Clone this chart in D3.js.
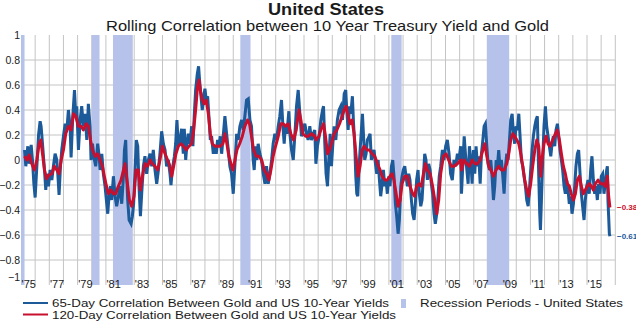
<!DOCTYPE html>
<html>
<head>
<meta charset="utf-8">
<script src="https://cdn.jsdelivr.net/npm/d3@7"></script>
<style>
  html, body { margin: 0; padding: 0; background: #fff; }
  svg { display: block; font-family: "Liberation Sans", Arial, sans-serif; }
</style>
</head>
<body>
<svg id="chart" width="636" height="322"></svg>
<script>
// 65-day rolling correlation, gold vs US 10-year yield: [decimal year, correlation]
const corr65 = [
  [1975.25,0.08],[1975.34,-0.05],[1975.48,0.11],[1975.58,-0.03],[1975.72,0.12],[1975.81,0.0],[1975.91,-0.19],
  [1976.00,-0.30],[1976.12,-0.05],[1976.24,0.2],[1976.35,0.31],[1976.42,0.27],[1976.52,0.13],[1976.66,-0.08],
  [1976.75,-0.24],[1976.82,-0.11],[1976.94,-0.21],[1977.06,-0.08],[1977.18,-0.16],[1977.29,-0.05],[1977.41,0.05],
  [1977.53,0.0],[1977.60,-0.11],[1977.69,-0.28],[1977.79,-0.05],[1977.88,0.08],[1978.00,0.19],[1978.12,0.29],
  [1978.24,0.24],[1978.35,0.40],[1978.47,0.27],[1978.54,0.02],[1978.66,0.35],[1978.78,0.56],[1978.87,0.35],
  [1978.94,0.43],[1979.06,0.08],[1979.18,0.32],[1979.29,0.43],[1979.41,0.27],[1979.53,0.37],[1979.65,0.16],
  [1979.76,0.45],[1979.88,0.27],[1979.95,0.0],[1980.05,0.13],[1980.19,0.0],[1980.28,-0.05],[1980.42,0.13],
  [1980.52,0.03],[1980.59,-0.08],[1980.71,0.05],[1980.82,-0.11],[1980.94,-0.21],[1981.06,-0.35],[1981.13,-0.43],
  [1981.22,-0.29],[1981.32,-0.21],[1981.41,-0.32],[1981.53,-0.13],[1981.65,-0.29],[1981.76,-0.37],[1981.88,-0.29],
  [1982.00,-0.21],[1982.12,-0.35],[1982.24,-0.13],[1982.31,0.08],[1982.40,0.16],[1982.47,-0.13],[1982.54,-0.32],
  [1982.64,-0.48],[1982.78,-0.51],[1982.87,-0.45],[1982.96,-0.35],[1983.06,-0.08],[1983.15,0.16],[1983.25,0.11],
  [1983.34,-0.21],[1983.44,-0.45],[1983.53,-0.27],[1983.65,-0.05],[1983.76,0.03],[1983.88,-0.11],[1984.00,0.0],
  [1984.12,0.05],[1984.24,-0.05],[1984.35,0.08],[1984.47,-0.08],[1984.59,-0.19],[1984.71,-0.08],[1984.82,0.05],
  [1984.94,0.23],[1985.06,0.13],[1985.18,0.08],[1985.29,-0.05],[1985.41,0.0],[1985.53,-0.11],[1985.60,-0.2],
  [1985.69,-0.08],[1985.84,0.03],[1985.93,0.13],[1986.02,0.32],[1986.12,0.11],[1986.24,0.16],[1986.35,0.25],
  [1986.47,0.05],[1986.54,0.25],[1986.64,0.0],[1986.73,0.13],[1986.82,0.21],[1986.94,0.13],[1987.06,0.27],
  [1987.15,0.11],[1987.25,0.37],[1987.34,0.56],[1987.46,0.69],[1987.55,0.75],[1987.62,0.64],[1987.72,0.51],
  [1987.81,0.40],[1987.91,0.51],[1988.00,0.57],[1988.09,0.48],[1988.19,0.51],[1988.28,0.35],[1988.38,0.16],
  [1988.47,0.19],[1988.59,0.05],[1988.71,0.12],[1988.80,0.05],[1988.89,0.16],[1988.99,0.11],[1989.08,0.19],
  [1989.18,0.05],[1989.29,0.19],[1989.41,0.35],[1989.53,0.21],[1989.65,0.08],[1989.76,-0.05],[1989.88,-0.11],
  [1990.00,-0.27],[1990.07,-0.13],[1990.16,0.05],[1990.24,0.21],[1990.35,0.16],[1990.47,0.27],[1990.59,0.32],
  [1990.71,0.24],[1990.82,0.35],[1990.94,0.48],[1991.06,0.49],[1991.18,0.32],[1991.29,0.27],[1991.41,0.0],
  [1991.48,-0.08],[1991.58,0.11],[1991.67,0.0],[1991.76,0.13],[1991.88,0.05],[1992.00,0.0],[1992.12,-0.11],
  [1992.24,-0.19],[1992.35,-0.05],[1992.47,-0.19],[1992.59,-0.11],[1992.71,0.0],[1992.82,0.13],[1992.94,0.21],
  [1993.06,0.16],[1993.18,0.27],[1993.29,0.35],[1993.41,0.48],[1993.51,0.27],[1993.60,0.13],[1993.69,0.29],
  [1993.79,0.21],[1993.93,0.39],[1994.02,0.19],[1994.12,0.08],[1994.24,0.0],[1994.35,0.19],[1994.47,0.43],
  [1994.59,0.56],[1994.71,0.37],[1994.82,0.19],[1994.94,0.24],[1995.06,0.29],[1995.18,0.21],[1995.29,0.16],
  [1995.41,0.27],[1995.53,0.16],[1995.65,0.21],[1995.76,0.24],[1995.84,-0.03],[1995.95,0.11],[1996.07,0.19],
  [1996.19,0.32],[1996.31,0.40],[1996.38,0.43],[1996.47,0.13],[1996.56,-0.11],[1996.66,-0.21],[1996.75,0.0],
  [1996.85,0.21],[1996.94,-0.05],[1997.04,0.13],[1997.13,0.27],[1997.25,0.16],[1997.36,0.32],[1997.48,0.40],
  [1997.60,0.43],[1997.72,0.32],[1997.84,0.53],[1997.95,0.56],[1998.02,0.40],[1998.12,0.24],[1998.21,0.43],
  [1998.31,0.37],[1998.42,0.51],[1998.49,0.32],[1998.59,0.11],[1998.66,-0.13],[1998.73,-0.27],[1998.80,-0.29],
  [1998.89,-0.05],[1999.01,0.16],[1999.13,0.37],[1999.20,0.21],[1999.29,0.0],[1999.39,0.05],[1999.48,0.16],
  [1999.60,0.19],[1999.67,0.21],[1999.76,0.0],[1999.86,0.05],[1999.95,0.08],[2000.05,-0.03],[2000.14,-0.11],
  [2000.24,0.0],[2000.33,-0.16],[2000.42,-0.29],[2000.52,-0.19],[2000.61,-0.08],[2000.71,-0.21],[2000.80,-0.16],
  [2000.89,-0.27],[2000.99,-0.13],[2001.08,-0.21],[2001.18,-0.05],[2001.27,0.0],[2001.36,-0.13],[2001.46,-0.35],
  [2001.55,-0.45],[2001.65,-0.59],[2001.74,-0.48],[2001.84,-0.21],[2001.93,-0.13],[2002.02,-0.08],[2002.12,-0.05],
  [2002.21,-0.13],[2002.31,-0.21],[2002.40,-0.11],[2002.49,-0.16],[2002.59,-0.32],[2002.68,-0.43],[2002.78,-0.48],
  [2002.87,-0.35],[2002.96,-0.16],[2003.06,-0.08],[2003.15,-0.27],[2003.25,-0.37],[2003.34,-0.32],[2003.44,-0.13],
  [2003.53,0.05],[2003.62,0.0],[2003.72,-0.16],[2003.81,-0.03],[2003.91,-0.08],[2004.00,-0.19],[2004.09,-0.27],
  [2004.19,-0.43],[2004.28,-0.51],[2004.38,-0.43],[2004.47,-0.29],[2004.56,-0.13],[2004.66,-0.05],[2004.78,0.08],
  [2004.89,0.0],[2005.01,0.11],[2005.13,0.16],[2005.25,0.05],[2005.36,-0.11],[2005.48,-0.16],[2005.60,0.0],
  [2005.72,-0.05],[2005.84,0.05],[2005.95,0.0],[2006.07,0.11],[2006.13,-0.27],[2006.22,-0.05],[2006.32,0.19],
  [2006.41,0.05],[2006.51,-0.08],[2006.60,-0.19],[2006.69,0.11],[2006.79,0.0],[2006.88,-0.19],[2006.98,0.08],
  [2007.07,-0.11],[2007.16,0.11],[2007.26,-0.05],[2007.35,0.03],[2007.45,-0.19],[2007.54,0.05],[2007.64,0.16],
  [2007.73,0.27],[2007.82,0.29],[2007.92,0.11],[2008.01,-0.03],[2008.11,-0.08],[2008.20,0.0],[2008.29,-0.13],
  [2008.39,-0.32],[2008.48,-0.21],[2008.58,0.0],[2008.67,-0.05],[2008.76,0.08],[2008.86,-0.08],[2008.95,0.0],
  [2009.05,-0.13],[2009.14,-0.27],[2009.24,-0.05],[2009.33,0.05],[2009.42,0.0],[2009.52,0.16],[2009.61,0.32],
  [2009.71,0.37],[2009.80,0.21],[2009.89,0.13],[2009.99,0.27],[2010.08,0.24],[2010.18,0.37],[2010.27,0.19],
  [2010.36,0.0],[2010.46,-0.05],[2010.55,-0.13],[2010.65,-0.21],[2010.74,-0.32],[2010.84,-0.37],[2010.93,-0.24],
  [2011.02,-0.08],[2011.12,0.08],[2011.21,0.19],[2011.31,0.27],[2011.40,0.32],[2011.49,0.35],[2011.59,-0.13],
  [2011.66,-0.43],[2011.71,-0.56],[2011.78,-0.32],[2011.87,0.0],[2011.96,0.27],[2012.06,0.43],[2012.15,0.27],
  [2012.25,0.19],[2012.34,0.11],[2012.44,0.03],[2012.53,0.13],[2012.62,0.19],[2012.72,0.11],[2012.81,0.24],
  [2012.91,0.29],[2013.00,0.19],[2013.09,0.08],[2013.19,0.0],[2013.28,-0.08],[2013.38,-0.21],[2013.47,-0.27],
  [2013.56,-0.16],[2013.66,-0.24],[2013.75,-0.35],[2013.85,-0.29],[2013.94,-0.43],[2014.04,-0.35],[2014.13,-0.21],
  [2014.22,-0.05],[2014.32,0.05],[2014.41,0.08],[2014.51,-0.11],[2014.60,-0.27],[2014.69,-0.37],[2014.79,-0.48],
  [2014.88,-0.32],[2014.98,-0.21],[2015.07,-0.16],[2015.16,-0.27],[2015.26,-0.08],[2015.35,0.03],[2015.45,-0.16],
  [2015.54,-0.27],[2015.64,-0.21],[2015.73,-0.32],[2015.82,-0.19],[2015.92,-0.27],[2016.01,-0.13],[2016.11,-0.11],
  [2016.20,-0.27],[2016.29,-0.19],[2016.39,-0.08],[2016.44,-0.05],[2016.48,-0.32],[2016.53,-0.45],[2016.58,-0.59],
  [2016.62,-0.61]
];

// 120-day rolling correlation: [decimal year, correlation]
const corr120 = [
  [1975.25,0.03],[1975.41,0.0],[1975.58,0.04],[1975.76,-0.03],[1975.95,-0.08],[1976.12,0.0],[1976.28,0.13],
  [1976.40,0.16],[1976.52,0.05],[1976.66,-0.08],[1976.80,-0.15],[1976.99,-0.12],[1977.18,-0.11],[1977.36,-0.05],
  [1977.53,-0.08],[1977.69,-0.11],[1977.84,0.0],[1978.00,0.08],[1978.16,0.21],[1978.35,0.27],[1978.54,0.24],
  [1978.71,0.37],[1978.87,0.35],[1979.06,0.27],[1979.25,0.27],[1979.41,0.24],[1979.60,0.29],[1979.76,0.27],
  [1979.91,0.16],[1980.05,0.08],[1980.24,0.03],[1980.42,0.05],[1980.59,0.0],[1980.75,-0.05],[1980.89,-0.13],
  [1981.04,-0.21],[1981.18,-0.27],[1981.36,-0.24],[1981.53,-0.27],[1981.69,-0.27],[1981.88,-0.21],[1982.07,-0.16],
  [1982.24,-0.08],[1982.35,-0.03],[1982.49,-0.16],[1982.66,-0.32],[1982.82,-0.37],[1982.99,-0.29],[1983.13,-0.08],
  [1983.29,-0.08],[1983.44,-0.24],[1983.58,-0.13],[1983.76,-0.03],[1983.95,-0.05],[1984.12,0.0],[1984.28,-0.03],
  [1984.47,-0.05],[1984.66,-0.08],[1984.82,0.0],[1984.99,0.11],[1985.18,0.05],[1985.36,0.0],[1985.53,-0.05],
  [1985.65,-0.13],[1985.79,-0.05],[1985.95,0.05],[1986.12,0.11],[1986.31,0.13],[1986.49,0.11],[1986.68,0.08],
  [1986.87,0.11],[1987.06,0.13],[1987.20,0.24],[1987.34,0.40],[1987.48,0.59],[1987.58,0.64],[1987.67,0.56],
  [1987.81,0.48],[1987.95,0.45],[1988.09,0.48],[1988.24,0.37],[1988.38,0.21],[1988.52,0.13],[1988.71,0.11],
  [1988.89,0.11],[1989.08,0.11],[1989.27,0.13],[1989.41,0.21],[1989.55,0.13],[1989.69,0.03],[1989.84,-0.03],
  [1989.98,-0.08],[1990.12,0.0],[1990.26,0.08],[1990.45,0.13],[1990.64,0.19],[1990.82,0.27],[1991.01,0.32],
  [1991.15,0.29],[1991.29,0.19],[1991.44,0.08],[1991.62,0.03],[1991.81,0.03],[1992.00,0.0],[1992.19,-0.08],
  [1992.35,-0.11],[1992.52,-0.16],[1992.66,-0.08],[1992.82,0.03],[1992.99,0.11],[1993.18,0.19],[1993.36,0.29],
  [1993.53,0.29],[1993.69,0.27],[1993.88,0.29],[1994.07,0.21],[1994.26,0.16],[1994.45,0.24],[1994.64,0.40],
  [1994.78,0.32],[1994.92,0.21],[1995.11,0.19],[1995.29,0.19],[1995.53,0.21],[1995.76,0.19],[1995.86,0.16],
  [1996.05,0.19],[1996.19,0.24],[1996.38,0.29],[1996.52,0.19],[1996.66,0.05],[1996.80,0.08],[1996.94,0.13],
  [1997.13,0.21],[1997.32,0.24],[1997.51,0.29],[1997.69,0.35],[1997.84,0.40],[1997.98,0.43],[1998.12,0.35],
  [1998.26,0.29],[1998.40,0.32],[1998.54,0.21],[1998.68,0.03],[1998.82,-0.13],[1998.96,-0.05],[1999.11,0.08],
  [1999.25,0.11],[1999.44,0.08],[1999.62,0.08],[1999.81,0.05],[2000.00,0.03],[2000.19,-0.03],[2000.38,-0.08],
  [2000.52,-0.13],[2000.71,-0.16],[2000.89,-0.16],[2001.08,-0.13],[2001.22,-0.11],[2001.36,-0.16],[2001.51,-0.27],
  [2001.65,-0.37],[2001.79,-0.32],[2001.93,-0.19],[2002.12,-0.13],[2002.31,-0.13],[2002.49,-0.21],[2002.68,-0.27],
  [2002.82,-0.29],[2002.96,-0.21],[2003.13,-0.19],[2003.29,-0.21],[2003.44,-0.11],[2003.58,-0.03],[2003.72,-0.08],
  [2003.91,-0.11],[2004.09,-0.21],[2004.24,-0.32],[2004.38,-0.43],[2004.52,-0.32],[2004.66,-0.11],[2004.85,0.03],
  [2005.04,0.05],[2005.22,0.0],[2005.41,-0.05],[2005.60,-0.05],[2005.84,-0.03],[2006.07,0.0],[2006.13,-0.08],
  [2006.32,0.0],[2006.51,-0.03],[2006.69,-0.05],[2006.88,0.0],[2007.07,-0.03],[2007.26,-0.03],[2007.45,0.0],
  [2007.64,0.08],[2007.78,0.13],[2007.92,0.03],[2008.06,-0.05],[2008.20,-0.08],[2008.39,-0.13],[2008.58,-0.08],
  [2008.76,-0.05],[2008.95,-0.08],[2009.14,-0.08],[2009.33,-0.03],[2009.47,0.05],[2009.61,0.16],[2009.75,0.21],
  [2009.89,0.19],[2010.04,0.16],[2010.18,0.13],[2010.32,0.05],[2010.46,-0.05],[2010.60,-0.16],[2010.74,-0.24],
  [2010.88,-0.29],[2011.02,-0.19],[2011.16,-0.05],[2011.31,0.08],[2011.45,0.16],[2011.59,0.11],[2011.73,-0.13],
  [2011.82,0.0],[2011.96,0.13],[2012.11,0.19],[2012.25,0.13],[2012.39,0.11],[2012.58,0.16],[2012.76,0.21],
  [2012.91,0.24],[2013.05,0.16],[2013.19,0.05],[2013.33,-0.05],[2013.47,-0.11],[2013.61,-0.19],[2013.75,-0.21],
  [2013.89,-0.27],[2014.04,-0.32],[2014.18,-0.27],[2014.32,-0.16],[2014.46,-0.13],[2014.60,-0.21],[2014.74,-0.27],
  [2014.88,-0.24],[2015.02,-0.21],[2015.16,-0.19],[2015.31,-0.21],[2015.45,-0.24],[2015.59,-0.19],[2015.78,-0.16],
  [2015.96,-0.19],[2016.15,-0.19],[2016.29,-0.21],[2016.44,-0.13],[2016.53,-0.29],[2016.62,-0.38]
];

// US recession periods (NBER), decimal years
const recessions = [
  [1975.0, 1975.25], [1980.0, 1980.55], [1981.5, 1982.9],
  [1990.5, 1991.22], [2001.17, 2001.9], [2007.92, 2009.5]
];

const yTicks = [1, 0.8, 0.6, 0.4, 0.2, 0, -0.2, -0.4, -0.6, -0.8, -1];
const gridYears = d3.range(1976, 2018);
const labelYears = d3.range(1975, 2017, 2);

const title = "United States";
const subtitle = "Rolling Correlation between 10 Year Treasury Yield and Gold";
const legendItems = [
  "65-Day Correlation Between Gold and US 10-Year Yields",
  "120-Day Correlation Between Gold and US 10-Year Yields",
  "Recession Periods - United States"
];

const BLUE = "#1c5a9a";
const RED = "#c8102e";
const RECESSION = "#b7c2ea";
const GRID = "#c4c4c4";
const TEXT = "#1a1a1a";

const svg = d3.select("#chart");

const x = d3.scaleLinear().domain([1975, 2017]).range([21, 615.3]);
const y = d3.scaleLinear().domain([-1, 1]).range([285, 35]);

// Titles (text is slightly widened to the header's span)
svg.append("text").attr("x", 326).attr("y", 15).attr("text-anchor", "middle")
  .attr("font-size", 16).attr("font-weight", "bold").attr("fill", TEXT)
  .attr("textLength", 116).attr("lengthAdjust", "spacingAndGlyphs").text(title);
svg.append("text").attr("x", 327.5).attr("y", 30.5).attr("text-anchor", "middle")
  .attr("font-size", 15).attr("fill", TEXT)
  .attr("textLength", 443).attr("lengthAdjust", "spacingAndGlyphs").text(subtitle);

// Gridlines
const grid = svg.append("g");
grid.selectAll("line.v").data(gridYears).join("line").attr("class", "v")
  .attr("x1", d => x(d)).attr("x2", d => x(d))
  .attr("y1", y(1)).attr("y2", y(-1))
  .attr("stroke", GRID).attr("stroke-width", 1);
grid.selectAll("line.h").data(yTicks.filter(d => Math.abs(d) < 1)).join("line").attr("class", "h")
  .attr("x1", x(1975)).attr("x2", x(2017))
  .attr("y1", d => y(d)).attr("y2", d => y(d))
  .attr("stroke", GRID).attr("stroke-width", 1);

// Recession shading
svg.append("g").selectAll("rect").data(recessions).join("rect")
  .attr("x", d => x(d[0])).attr("width", d => x(d[1]) - x(d[0]))
  .attr("y", y(1)).attr("height", y(-1) - y(1))
  .attr("fill", RECESSION);

// Correlation lines
const line = d3.line().x(d => x(d[0])).y(d => y(d[1]));
svg.append("path").datum(corr65).attr("d", line)
  .attr("fill", "none").attr("stroke", BLUE).attr("stroke-width", 3).attr("stroke-linejoin", "miter");
svg.append("path").datum(corr120).attr("d", line)
  .attr("fill", "none").attr("stroke", RED).attr("stroke-width", 3).attr("stroke-linejoin", "round");

// Y axis labels
const fmt = d => d === 0 ? "0" : (Math.abs(d) === 1 ? d3.format("d")(d) : d3.format(".1f")(d));
svg.append("g").selectAll("text").data(yTicks).join("text")
  .attr("x", 20).attr("y", d => d === -1 ? y(d) - 8 : y(d))
  .attr("dy", "0.35em").attr("text-anchor", "end")
  .attr("font-size", 10.5).attr("fill", TEXT).text(fmt);

// X axis labels
svg.append("g").selectAll("text").data(labelYears).join("text")
  .attr("x", d => x(d + 0.55)).attr("y", 287.5).attr("text-anchor", "middle")
  .attr("font-size", 11).attr("fill", TEXT)
  .text(d => "'" + String(d % 100).padStart(2, "0"));

// End-value labels
const last65 = corr65[corr65.length - 1];
const last120 = corr120[corr120.length - 1];
svg.append("text").attr("x", 617).attr("y", y(last120[1])).attr("dy", "0.35em")
  .attr("font-size", 8).attr("font-weight", "bold").attr("fill", RED).text(d3.format(".2f")(last120[1]));
svg.append("text").attr("x", 617).attr("y", y(last65[1])).attr("dy", "0.35em")
  .attr("font-size", 8).attr("font-weight", "bold").attr("fill", BLUE).text(d3.format(".2f")(last65[1]));

// Legend
const lg = svg.append("g").attr("font-size", 11.5).attr("fill", TEXT);
lg.append("line").attr("x1", 23).attr("x2", 48).attr("y1", 303).attr("y2", 303)
  .attr("stroke", BLUE).attr("stroke-width", 2);
lg.append("text").attr("x", 52).attr("y", 303).attr("dy", "0.35em")
  .attr("textLength", 337).attr("lengthAdjust", "spacingAndGlyphs").text(legendItems[0]);
lg.append("line").attr("x1", 23).attr("x2", 48).attr("y1", 314.5).attr("y2", 314.5)
  .attr("stroke", RED).attr("stroke-width", 2);
lg.append("text").attr("x", 52).attr("y", 314.5).attr("dy", "0.35em")
  .attr("textLength", 344).attr("lengthAdjust", "spacingAndGlyphs").text(legendItems[1]);
lg.append("rect").attr("x", 401).attr("y", 299).attr("width", 5).attr("height", 9).attr("fill", RECESSION);
lg.append("text").attr("x", 420).attr("y", 303).attr("dy", "0.35em")
  .attr("textLength", 203).attr("lengthAdjust", "spacingAndGlyphs").text(legendItems[2]);
</script>
</body>
</html>
